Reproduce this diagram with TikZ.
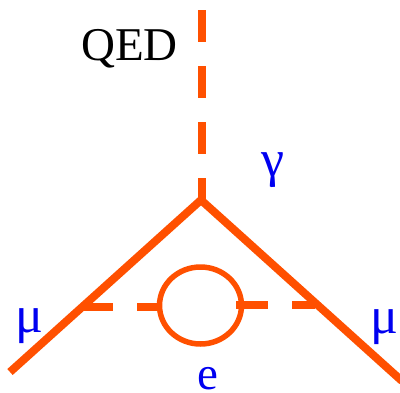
\documentclass[tikz,border=0pt]{standalone}
\usepackage{fontspec}
\setmainfont{Liberation Serif}
\usetikzlibrary{shapes.geometric}
\definecolor{feyn}{RGB}{255,80,0}
\definecolor{lab}{RGB}{0,0,240}
\tikzset{
  lepton/.style={draw=feyn,line width=8pt},
  boson/.style={draw=feyn,line width=8pt},
  txt/.style={inner sep=0pt,anchor=base west,font=\fontsize{47}{47}\selectfont},
  labl/.style={txt,text=lab},
  greek/.style={labl,font=\fontsize{52}{52}\selectfont},
  loopring/.style={ellipse,draw=feyn,line width=5.5pt,inner sep=0pt,minimum width=82pt,minimum height=77pt}
}
\begin{document}
\begin{tikzpicture}[x=1pt,y=-1pt]
\useasboundingbox (0,0) rectangle (400,392);
\coordinate (top) at (202,10);
\coordinate (vend) at (202,200);
\coordinate (apex) at (201,200);
\coordinate (ml) at (10,372);
\coordinate (mr) at (402,381);
\coordinate (la) at (83,307);
\coordinate (lb) at (160,307);
\coordinate (ra) at (236,304.5);
\coordinate (rb) at (315,304.5);
\node[loopring] (loop) at (200.5,305.5) {};
\draw[boson,dash pattern=on 32pt off 24pt] (top) -- (vend);
\draw[lepton] (ml) -- (apex);
\draw[lepton] (apex) -- (mr);
\draw[boson,dash pattern=on 30pt off 24pt] (la) -- (lb);
\draw[boson,dash pattern=on 32pt off 24pt] (ra) -- (rb);
\node[txt] (qed) at (81,60) {QED};
\node[greek] (gam) at (261,176.5) {γ};
\node[greek] (mu1) at (15,332) {μ};
\node[greek] (mu2) at (370,333) {μ};
\node[labl] (e) at (197,389) {e};
\end{tikzpicture}
\end{document}
